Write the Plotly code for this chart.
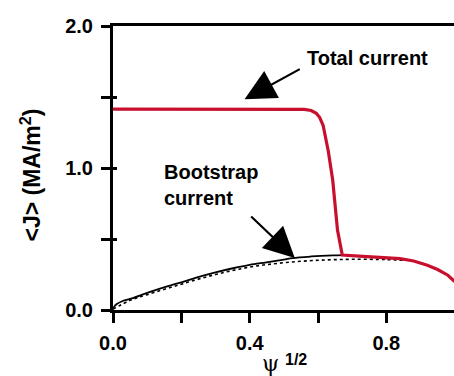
import plotly.graph_objects as go

# Total current (red)
psi_total = [0.0, 0.1, 0.2, 0.3, 0.4, 0.5, 0.56, 0.58, 0.595, 0.605, 0.615, 0.63, 0.643, 0.657, 0.671,
             0.72, 0.78, 0.84, 0.88, 0.92, 0.95, 0.98, 1.0]
j_total = [1.415, 1.415, 1.415, 1.415, 1.415, 1.415, 1.413, 1.405, 1.385, 1.355, 1.30, 1.12, 0.915, 0.563, 0.387,
           0.38, 0.372, 0.362, 0.345, 0.315, 0.285, 0.245, 0.2]

# Bootstrap current (solid black)
psi_bs = [0.0, 0.01, 0.03, 0.058, 0.1, 0.156, 0.2, 0.254, 0.3, 0.351, 0.4, 0.449, 0.5, 0.526, 0.58, 0.643, 0.671]
j_bs = [0.01, 0.04, 0.065, 0.084, 0.12, 0.164, 0.195, 0.235, 0.265, 0.294, 0.318, 0.336, 0.355, 0.366, 0.377, 0.385, 0.387]

# Bootstrap current (dotted)
psi_bs2 = [0.0, 0.05, 0.1, 0.2, 0.3, 0.4, 0.5, 0.6, 0.7, 0.8, 0.85]
j_bs2 = [0.005, 0.068, 0.108, 0.182, 0.25, 0.302, 0.333, 0.35, 0.357, 0.355, 0.35]

x_ticks = [0.0, 0.4, 0.8]
x_ticklabels = ["0.0", "0.4", "0.8"]
y_ticks = [0.0, 1.0, 2.0]
y_ticklabels = ["0.0", "1.0", "2.0"]

RED = "rgb(200,16,46)"
FONT = "Liberation Sans, Arial, sans-serif"

fig = go.Figure()
fig.add_trace(go.Scatter(x=psi_bs2, y=j_bs2, mode="lines",
                         line=dict(color="black", width=1.6, dash="dot", shape="spline"),
                         showlegend=False, hoverinfo="skip"))
fig.add_trace(go.Scatter(x=psi_bs, y=j_bs, mode="lines",
                         line=dict(color="black", width=1.8, shape="spline"),
                         showlegend=False, hoverinfo="skip"))
fig.add_trace(go.Scatter(x=psi_total, y=j_total, mode="lines",
                         line=dict(color=RED, width=3.2),
                         showlegend=False, hoverinfo="skip"))
# invisible trace to activate the overlay axis for inside ticks
fig.add_trace(go.Scatter(x=[0], y=[0], yaxis="y2", mode="markers", marker=dict(opacity=0),
                         showlegend=False, hoverinfo="skip"))

fig.update_layout(
    width=454, height=376,
    margin=dict(l=113, r=0, t=26, b=66),
    paper_bgcolor="white", plot_bgcolor="white",
    font=dict(family=FONT, color="black"),
    xaxis=dict(range=[0, 0.998], tickvals=x_ticks, ticktext=x_ticklabels,
               ticks="outside", ticklen=10, tickwidth=2.5, tickcolor="black",
               minor=dict(tickvals=[0.2, 0.6], ticks="outside", ticklen=10, tickwidth=2.5, tickcolor="black"),
               showline=True, linewidth=3, linecolor="black", mirror=True,
               showgrid=False, zeroline=False,
               tickfont=dict(size=20, family=FONT, weight="bold", color="black"),
               ticklabelstandoff=3),
    yaxis=dict(range=[0, 2.0], tickvals=y_ticks, ticktext=y_ticklabels,
               ticks="outside", ticklen=9, tickwidth=2.5, tickcolor="black",
               minor=dict(tickvals=[0.5, 1.5], ticks="outside", ticklen=9, tickwidth=2.5, tickcolor="black"),
               showline=True, linewidth=3, linecolor="black",
               showgrid=False, zeroline=False,
               tickfont=dict(size=20, family=FONT, weight="bold", color="black"),
               ticklabelstandoff=4),
    yaxis2=dict(range=[0, 2.0], overlaying="y", side="left", tickvals=[0.5, 1.0, 1.5],
                ticks="inside", ticklen=4, tickwidth=2.5, tickcolor="black",
                showticklabels=False, showline=False, showgrid=False, zeroline=False),
)

# Y-axis title
fig.add_annotation(xref="paper", yref="paper", x=-0.24, y=0.474,
                   text="<b>&lt;J&gt; (MA/m<sup>2</sup>)</b>", textangle=-90,
                   showarrow=False, xanchor="center", yanchor="middle",
                   font=dict(size=23, family=FONT, color="black"))
# X-axis title: psi and superscript 1/2
fig.add_annotation(xref="paper", yref="paper", x=0.463, y=-0.19,
                   text="ψ", showarrow=False, xanchor="center", yanchor="middle",
                   font=dict(size=22, family="DejaVu Serif, serif", color="black"))
fig.add_annotation(xref="paper", yref="paper", x=0.537, y=-0.173,
                   text="<b>1/2</b>", showarrow=False, xanchor="center", yanchor="middle",
                   font=dict(size=16, family=FONT, color="black"))

# Labels
fig.add_annotation(x=0.744, y=1.775, xref="x", yref="y", text="<b>Total current</b>",
                   showarrow=False, xanchor="center", yanchor="middle",
                   font=dict(size=20, family=FONT, color="black"))
fig.add_annotation(x=0.143, y=0.88, xref="x", yref="y", text="<b>Bootstrap<br>current</b>",
                   showarrow=False, xanchor="left", yanchor="middle", align="left",
                   font=dict(size=20, family=FONT, color="black"))

# Arrows
fig.add_annotation(x=0.385, y=1.484, ax=0.551, ay=1.702, xref="x", yref="y", axref="x", ayref="y",
                   text="", showarrow=True, arrowhead=2, arrowsize=2.8, arrowwidth=2.2, arrowcolor="black")
fig.add_annotation(x=0.532, y=0.366, ax=0.40, ay=0.669, xref="x", yref="y", axref="x", ayref="y",
                   text="", showarrow=True, arrowhead=2, arrowsize=2.8, arrowwidth=2.2, arrowcolor="black")

fig.write_html("out.html")
